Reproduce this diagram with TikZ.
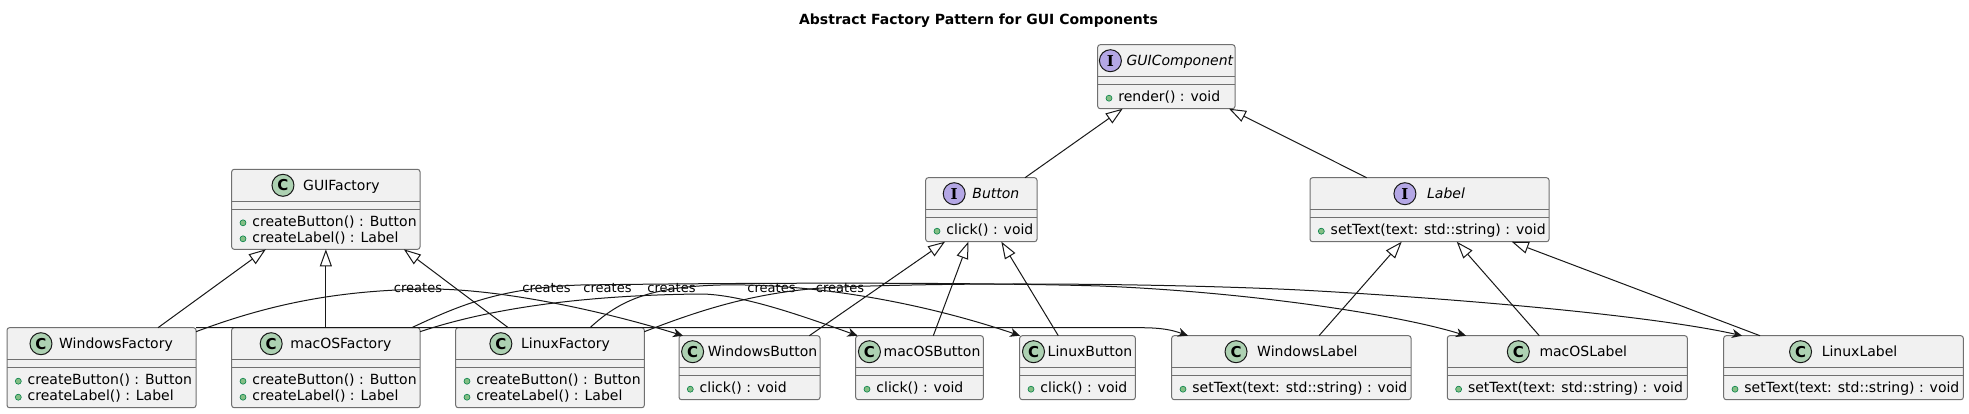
\documentclass[tikz,border=0pt]{standalone}
\usepackage{fontspec}
\setmainfont{DejaVu Sans}
\newfontfamily\serifbold{DejaVu Serif}
\usetikzlibrary{arrows.meta}
\definecolor{boxfill}{HTML}{F1F1F1}
\definecolor{boxline}{HTML}{707070}
\definecolor{edgecol}{HTML}{181818}
\definecolor{clsfill}{HTML}{ADD1B2}
\definecolor{ifcfill}{HTML}{B4A7E5}
\definecolor{bulletfill}{HTML}{84BE84}
\definecolor{bulletline}{HTML}{038048}
\tikzset{
  classbox/.style={draw=boxline, fill=boxfill, rounded corners=2.5pt, line width=1pt, inner sep=0pt, outer sep=0pt},
  sepline/.style={draw=boxline, line width=1pt},
  namefont/.style={font=\fontsize{14}{16}\selectfont, inner sep=0pt, text height=10pt, text depth=0pt},
  cls/.style={circle, draw=edgecol, fill=clsfill, line width=1pt, minimum size=22pt, inner sep=0pt, font=\bfseries\fontsize{15}{15}\selectfont},
  ifc/.style={circle, draw=edgecol, fill=ifcfill, line width=1pt, minimum size=22pt, inner sep=0pt, font=\serifbold\bfseries\fontsize{15}{15}\selectfont},
  meth/.style={font=\fontsize{14}{16}\selectfont, inner sep=0pt, text height=10pt, text depth=0pt, anchor=west},
  bullet/.style={circle, draw=bulletline, fill=bulletfill, minimum size=6pt, inner sep=0pt, line width=0.6pt},
  inherit/.style={draw=edgecol, line width=1pt, -{Triangle[length=17pt, width=12pt, fill=white]}},
  creates/.style={draw=edgecol, line width=1pt, -{Stealth[length=10pt, width=9pt, inset=3pt]}},
  crlabel/.style={font=\fontsize{13}{15}\selectfont, inner sep=0pt, anchor=base},
  titlestyle/.style={font=\bfseries\fontsize{14}{16}\selectfont, inner sep=0pt, text height=10pt, text depth=0pt},
}
\newcommand{\umlbox}[5]{%
  \pgfmathsetmacro{\bw}{#3-#2}%
  \pgfmathsetmacro{\bh}{64+16*(#5-1)}%
  \pgfmathsetmacro{\bcx}{(#2+#3)/2}%
  \pgfmathsetmacro{\bcy}{#4+\bh/2}%
  \node[classbox, minimum width=\bw pt, minimum height=\bh pt] (#1) at (\bcx,\bcy) {};%
  \draw[sepline] ([yshift=-32pt]#1.north west) -- ([yshift=-32pt]#1.north east);%
  \draw[sepline] ([yshift=-40pt]#1.north west) -- ([yshift=-40pt]#1.north east);%
}
\newcommand{\umlhead}[5]{%
  \pgfmathsetmacro{\hs}{(22+#4)/2}%
  \node[namefont] (#1-n) at ([xshift=\hs pt, yshift=-16pt]#1.north) {#5};%
  \node[#2] (#1-c) at ([xshift={-(#4+11)*1pt}]#1-n.west) {#3};%
}
\newcommand{\umlmeth}[3]{%
  \pgfmathsetmacro{\my}{52+16*#2}%
  \node[bullet] (#1-b#2) at ([xshift=11.3pt, yshift={-(\my+1.5)*1pt}]#1.north west) {};%
  \node[meth] (#1-m#2) at ([xshift=20.5pt, yshift={-\my*1pt}]#1.north west) {#3};%
}
\begin{document}
\begin{tikzpicture}[x=1pt,y=-1pt]
\fill[white] (0,0) rectangle (1969,413);
\useasboundingbox (0,0) rectangle (1969,413);
\node[titlestyle] (title) at (978.5,19) {Abstract Factory Pattern for GUI Components};

% interfaces
\umlbox{gc}{1097.7}{1235}{44.7}{1}
\umlhead{gc}{ifc}{I}{5}{\itshape GUIComponent}
\umlmeth{gc}{0}{render() : void}

\umlbox{btn}{925.7}{1037}{177.7}{1}
\umlhead{btn}{ifc}{I}{7}{\itshape Button}
\umlmeth{btn}{0}{click() : void}

\umlbox{lbl}{1310}{1549}{177.7}{1}
\umlhead{lbl}{ifc}{I}{11}{\itshape Label}
\umlmeth{lbl}{0}{setText(text: std::string) : void}

% factories
\umlbox{gf}{231.7}{420}{169.3}{2}
\umlhead{gf}{cls}{C}{9}{GUIFactory}
\umlmeth{gf}{0}{createButton() : Button}
\umlmeth{gf}{1}{createLabel() : Label}

\umlbox{wf}{7}{196}{327.7}{2}
\umlhead{wf}{cls}{C}{7}{WindowsFactory}
\umlmeth{wf}{0}{createButton() : Button}
\umlmeth{wf}{1}{createLabel() : Label}

\umlbox{mf}{231.7}{420}{327.7}{2}
\umlhead{mf}{cls}{C}{8}{macOSFactory}
\umlmeth{mf}{0}{createButton() : Button}
\umlmeth{mf}{1}{createLabel() : Label}

\umlbox{lf}{455.7}{644.3}{327.7}{2}
\umlhead{lf}{cls}{C}{9}{LinuxFactory}
\umlmeth{lf}{0}{createButton() : Button}
\umlmeth{lf}{1}{createLabel() : Label}

% products
\umlbox{wb}{679}{820}{335.7}{1}
\umlhead{wb}{cls}{C}{4}{WindowsButton}
\umlmeth{wb}{0}{click() : void}

\umlbox{mb}{855.7}{983.3}{335.7}{1}
\umlhead{mb}{cls}{C}{3}{macOSButton}
\umlmeth{mb}{0}{click() : void}

\umlbox{lb}{1019.7}{1135.3}{335.7}{1}
\umlhead{lb}{cls}{C}{3}{LinuxButton}
\umlmeth{lb}{0}{click() : void}

\umlbox{wl}{1171.7}{1411}{335.7}{1}
\umlhead{wl}{cls}{C}{10}{WindowsLabel}
\umlmeth{wl}{0}{setText(text: std::string) : void}

\umlbox{ml}{1447.3}{1687.3}{335.7}{1}
\umlhead{ml}{cls}{C}{10}{macOSLabel}
\umlmeth{ml}{0}{setText(text: std::string) : void}

\umlbox{ll}{1723.7}{1963.3}{335.7}{1}
\umlhead{ll}{cls}{C}{10}{LinuxLabel}
\umlmeth{ll}{0}{setText(text: std::string) : void}

% inheritance
\draw[inherit] ([xshift=43.65pt]btn.north) -- ([xshift=-43.65pt]gc.south);
\draw[inherit] ([xshift=-62.8pt]lbl.north) -- ([xshift=62.65pt]gc.south);
\draw[inherit] ([xshift=59.8pt]wb.north) -- ([xshift=-36.35pt]btn.south);
\draw[inherit] ([xshift=13.8pt]mb.north) -- ([xshift=-13pt]btn.south);
\draw[inherit] ([xshift=-19.2pt]lb.north) -- ([xshift=20pt]btn.south);
\draw[inherit] ([xshift=27.65pt]wl.north) -- ([xshift=-27.8pt]lbl.south);
\draw[inherit] ([xshift=-28pt]ml.north) -- ([xshift=27.2pt]lbl.south);
\draw[inherit] ([xshift=-83.5pt]ll.north) -- ([xshift=82.2pt]lbl.south);
\draw[inherit] ([xshift=56.5pt]wf.north) -- ([xshift=-60pt]gf.south);
\draw[inherit] (mf.north) -- (gf.south);
\draw[inherit] ([xshift=-41.7pt]lf.north) -- ([xshift=78pt]gf.south);

% creates
\node[crlabel] (lab1) at (418,292.5) {creates};
\node[crlabel] (lab2) at (546.5,292.5) {creates};
\node[crlabel] (lab3) at (607.5,292.5) {creates};
\node[crlabel] (lab4) at (671.5,292.5) {creates};
\node[crlabel] (lab5) at (771.5,292.5) {creates};
\node[crlabel] (lab6) at (840,292.5) {creates};

\draw[creates] ([yshift=-4pt]wf.north east) .. controls (280,300) and (350,290) .. (430,289) .. controls (500,289) and (600,310) .. ([xshift=-66.5pt]wb.north);
\draw[creates] (wf.north east) -- (1140,327.7) .. controls (1162,327.7) and (1172,330) .. ([xshift=-103.35pt]wl.north);
\draw[creates] ([yshift=-4pt]mf.north east) .. controls (500,305) and (600,295) .. (700,294) .. controls (740,294) and (800,315) .. ([xshift=-62pt]mb.north);
\draw[creates] ([xshift=85.85pt]mf.north) .. controls (460,305) and (500,288) .. (580,285) .. controls (800,282) and (1000,283) .. (1100,286) .. controls (1250,292) and (1400,315) .. ([xshift=-101.3pt]ml.north);
\draw[creates] ([xshift=40pt]lf.north) .. controls (620,300) and (650,287) .. (720,285) .. controls (820,283) and (930,305) .. ([xshift=-57.5pt]lb.north);
\draw[creates] ([yshift=-4pt]lf.north east) .. controls (700,310) and (760,290) .. (840,287) .. controls (1000,281) and (1200,285) .. (1300,290) .. controls (1450,298) and (1650,315) .. ([xshift=-101.5pt]ll.north);
\end{tikzpicture}
\end{document}
